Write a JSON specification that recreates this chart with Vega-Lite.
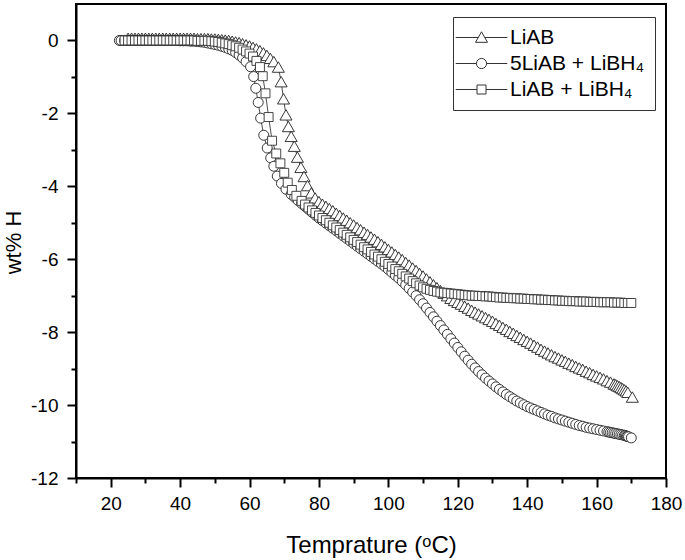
{
"$schema": "https://vega.github.io/schema/vega-lite/v6.json",
"width": 590, "height": 474,
"autosize": {"type": "none"},
"padding": {"left": 76, "top": 4, "right": 19, "bottom": 82},
"background": "white",
"config": {"view": {"stroke": "black", "strokeWidth": 2}, "font": "Liberation Sans"},
"data": {"values": [
{"s":"LiAB","t":25,"w":0.06},{"s":"LiAB","t":26,"w":0.06},{"s":"LiAB","t":27,"w":0.06},{"s":"LiAB","t":28,"w":0.06},{"s":"LiAB","t":29,"w":0.06},{"s":"LiAB","t":30,"w":0.06},{"s":"LiAB","t":31,"w":0.06},{"s":"LiAB","t":32,"w":0.06},{"s":"LiAB","t":33,"w":0.06},{"s":"LiAB","t":34,"w":0.06},{"s":"LiAB","t":35,"w":0.06},{"s":"LiAB","t":36,"w":0.06},{"s":"LiAB","t":37,"w":0.06},{"s":"LiAB","t":38,"w":0.06},{"s":"LiAB","t":39,"w":0.06},{"s":"LiAB","t":40,"w":0.06},{"s":"LiAB","t":41,"w":0.06},{"s":"LiAB","t":42,"w":0.06},{"s":"LiAB","t":43,"w":0.06},{"s":"LiAB","t":44,"w":0.06},{"s":"LiAB","t":45,"w":0.05},{"s":"LiAB","t":46,"w":0.05},{"s":"LiAB","t":47,"w":0.05},{"s":"LiAB","t":48,"w":0.05},{"s":"LiAB","t":49,"w":0.04},{"s":"LiAB","t":50,"w":0.04},{"s":"LiAB","t":51,"w":0.03},{"s":"LiAB","t":52,"w":0.02},{"s":"LiAB","t":53,"w":0.01},{"s":"LiAB","t":54,"w":0.0},{"s":"LiAB","t":55,"w":-0.02},{"s":"LiAB","t":56,"w":-0.04},{"s":"LiAB","t":57,"w":-0.06},{"s":"LiAB","t":58,"w":-0.09},{"s":"LiAB","t":59,"w":-0.12},{"s":"LiAB","t":60,"w":-0.15},{"s":"LiAB","t":61,"w":-0.19},{"s":"LiAB","t":62,"w":-0.23},{"s":"LiAB","t":63,"w":-0.28},{"s":"LiAB","t":64,"w":-0.34},{"s":"LiAB","t":65,"w":-0.41},{"s":"LiAB","t":66,"w":-0.49},{"s":"LiAB","t":67,"w":-0.58},{"s":"LiAB","t":68.3,"w":-0.73},{"s":"LiAB","t":69.1,"w":-1.13},{"s":"LiAB","t":69.8,"w":-1.6},{"s":"LiAB","t":70.5,"w":-2.04},{"s":"LiAB","t":71.2,"w":-2.36},{"s":"LiAB","t":72,"w":-2.63},{"s":"LiAB","t":72.9,"w":-2.9},{"s":"LiAB","t":73.8,"w":-3.2},{"s":"LiAB","t":74.8,"w":-3.48},{"s":"LiAB","t":75.7,"w":-3.73},{"s":"LiAB","t":76.7,"w":-3.98},{"s":"LiAB","t":77.8,"w":-4.18},{"s":"LiAB","t":78.9,"w":-4.32},{"s":"LiAB","t":80,"w":-4.42},{"s":"LiAB","t":81,"w":-4.49},{"s":"LiAB","t":82,"w":-4.55},{"s":"LiAB","t":83,"w":-4.61},{"s":"LiAB","t":84,"w":-4.67},{"s":"LiAB","t":85,"w":-4.74},{"s":"LiAB","t":86,"w":-4.8},{"s":"LiAB","t":87,"w":-4.87},{"s":"LiAB","t":88,"w":-4.93},{"s":"LiAB","t":89,"w":-5.0},{"s":"LiAB","t":90,"w":-5.06},{"s":"LiAB","t":91,"w":-5.13},{"s":"LiAB","t":92,"w":-5.19},{"s":"LiAB","t":93,"w":-5.26},{"s":"LiAB","t":94,"w":-5.32},{"s":"LiAB","t":95,"w":-5.39},{"s":"LiAB","t":96,"w":-5.45},{"s":"LiAB","t":97,"w":-5.52},{"s":"LiAB","t":98,"w":-5.59},{"s":"LiAB","t":99,"w":-5.66},{"s":"LiAB","t":100,"w":-5.73},{"s":"LiAB","t":101,"w":-5.8},{"s":"LiAB","t":102,"w":-5.87},{"s":"LiAB","t":103,"w":-5.94},{"s":"LiAB","t":104,"w":-6.01},{"s":"LiAB","t":105,"w":-6.09},{"s":"LiAB","t":106,"w":-6.16},{"s":"LiAB","t":107,"w":-6.24},{"s":"LiAB","t":108,"w":-6.31},{"s":"LiAB","t":109,"w":-6.39},{"s":"LiAB","t":110,"w":-6.46},{"s":"LiAB","t":111,"w":-6.54},{"s":"LiAB","t":112,"w":-6.62},{"s":"LiAB","t":113,"w":-6.7},{"s":"LiAB","t":114,"w":-6.78},{"s":"LiAB","t":115,"w":-6.86},{"s":"LiAB","t":116,"w":-6.93},{"s":"LiAB","t":117,"w":-7.0},{"s":"LiAB","t":118,"w":-7.07},{"s":"LiAB","t":119,"w":-7.13},{"s":"LiAB","t":120,"w":-7.18},{"s":"LiAB","t":121,"w":-7.23},{"s":"LiAB","t":122,"w":-7.29},{"s":"LiAB","t":123,"w":-7.34},{"s":"LiAB","t":124,"w":-7.4},{"s":"LiAB","t":125,"w":-7.45},{"s":"LiAB","t":126,"w":-7.5},{"s":"LiAB","t":127,"w":-7.55},{"s":"LiAB","t":128,"w":-7.6},{"s":"LiAB","t":129,"w":-7.65},{"s":"LiAB","t":130,"w":-7.7},{"s":"LiAB","t":131,"w":-7.76},{"s":"LiAB","t":132,"w":-7.81},{"s":"LiAB","t":133,"w":-7.87},{"s":"LiAB","t":134,"w":-7.92},{"s":"LiAB","t":135,"w":-7.98},{"s":"LiAB","t":136,"w":-8.03},{"s":"LiAB","t":137,"w":-8.09},{"s":"LiAB","t":138,"w":-8.14},{"s":"LiAB","t":139,"w":-8.2},{"s":"LiAB","t":140,"w":-8.25},{"s":"LiAB","t":141,"w":-8.3},{"s":"LiAB","t":142,"w":-8.36},{"s":"LiAB","t":143,"w":-8.41},{"s":"LiAB","t":144,"w":-8.47},{"s":"LiAB","t":145,"w":-8.52},{"s":"LiAB","t":146,"w":-8.57},{"s":"LiAB","t":147,"w":-8.62},{"s":"LiAB","t":148,"w":-8.67},{"s":"LiAB","t":149,"w":-8.71},{"s":"LiAB","t":150,"w":-8.76},{"s":"LiAB","t":151,"w":-8.8},{"s":"LiAB","t":152,"w":-8.85},{"s":"LiAB","t":153,"w":-8.89},{"s":"LiAB","t":154,"w":-8.94},{"s":"LiAB","t":155,"w":-8.98},{"s":"LiAB","t":156,"w":-9.02},{"s":"LiAB","t":157,"w":-9.07},{"s":"LiAB","t":158,"w":-9.11},{"s":"LiAB","t":159,"w":-9.16},{"s":"LiAB","t":160,"w":-9.2},{"s":"LiAB","t":161,"w":-9.24},{"s":"LiAB","t":162,"w":-9.28},{"s":"LiAB","t":163,"w":-9.33},{"s":"LiAB","t":164,"w":-9.37},{"s":"LiAB","t":165,"w":-9.42},{"s":"LiAB","t":165.5,"w":-9.44},{"s":"LiAB","t":166,"w":-9.47},{"s":"LiAB","t":166.5,"w":-9.49},{"s":"LiAB","t":167,"w":-9.52},{"s":"LiAB","t":167.5,"w":-9.55},{"s":"LiAB","t":168,"w":-9.58},{"s":"LiAB","t":168.5,"w":-9.61},{"s":"LiAB","t":169,"w":-9.65},{"s":"LiAB","t":170.3,"w":-9.78},
{"s":"5LiAB + LiBH₄","t":22.5,"w":0},{"s":"5LiAB + LiBH₄","t":23,"w":0},{"s":"5LiAB + LiBH₄","t":24,"w":0},{"s":"5LiAB + LiBH₄","t":25,"w":0},{"s":"5LiAB + LiBH₄","t":26,"w":0},{"s":"5LiAB + LiBH₄","t":27,"w":0},{"s":"5LiAB + LiBH₄","t":28,"w":0},{"s":"5LiAB + LiBH₄","t":29,"w":0},{"s":"5LiAB + LiBH₄","t":30,"w":0},{"s":"5LiAB + LiBH₄","t":31,"w":0},{"s":"5LiAB + LiBH₄","t":32,"w":0},{"s":"5LiAB + LiBH₄","t":33,"w":0},{"s":"5LiAB + LiBH₄","t":34,"w":0},{"s":"5LiAB + LiBH₄","t":35,"w":0},{"s":"5LiAB + LiBH₄","t":36,"w":0},{"s":"5LiAB + LiBH₄","t":37,"w":0},{"s":"5LiAB + LiBH₄","t":38,"w":0},{"s":"5LiAB + LiBH₄","t":39,"w":0},{"s":"5LiAB + LiBH₄","t":40,"w":-0.01},{"s":"5LiAB + LiBH₄","t":41,"w":-0.01},{"s":"5LiAB + LiBH₄","t":42,"w":-0.01},{"s":"5LiAB + LiBH₄","t":43,"w":-0.02},{"s":"5LiAB + LiBH₄","t":44,"w":-0.02},{"s":"5LiAB + LiBH₄","t":45,"w":-0.03},{"s":"5LiAB + LiBH₄","t":46,"w":-0.04},{"s":"5LiAB + LiBH₄","t":47,"w":-0.05},{"s":"5LiAB + LiBH₄","t":48,"w":-0.07},{"s":"5LiAB + LiBH₄","t":49,"w":-0.09},{"s":"5LiAB + LiBH₄","t":50,"w":-0.11},{"s":"5LiAB + LiBH₄","t":51,"w":-0.13},{"s":"5LiAB + LiBH₄","t":52,"w":-0.16},{"s":"5LiAB + LiBH₄","t":53,"w":-0.19},{"s":"5LiAB + LiBH₄","t":54,"w":-0.23},{"s":"5LiAB + LiBH₄","t":55,"w":-0.27},{"s":"5LiAB + LiBH₄","t":56,"w":-0.33},{"s":"5LiAB + LiBH₄","t":57,"w":-0.4},{"s":"5LiAB + LiBH₄","t":58,"w":-0.48},{"s":"5LiAB + LiBH₄","t":59,"w":-0.58},{"s":"5LiAB + LiBH₄","t":60.3,"w":-0.72},{"s":"5LiAB + LiBH₄","t":61.2,"w":-0.99},{"s":"5LiAB + LiBH₄","t":61.8,"w":-1.31},{"s":"5LiAB + LiBH₄","t":62.5,"w":-1.7},{"s":"5LiAB + LiBH₄","t":63.2,"w":-2.13},{"s":"5LiAB + LiBH₄","t":64.1,"w":-2.6},{"s":"5LiAB + LiBH₄","t":65.1,"w":-2.95},{"s":"5LiAB + LiBH₄","t":66.1,"w":-3.22},{"s":"5LiAB + LiBH₄","t":67,"w":-3.45},{"s":"5LiAB + LiBH₄","t":68,"w":-3.72},{"s":"5LiAB + LiBH₄","t":69.2,"w":-3.92},{"s":"5LiAB + LiBH₄","t":70.5,"w":-4.08},{"s":"5LiAB + LiBH₄","t":72,"w":-4.22},{"s":"5LiAB + LiBH₄","t":73,"w":-4.3},{"s":"5LiAB + LiBH₄","t":74,"w":-4.39},{"s":"5LiAB + LiBH₄","t":75,"w":-4.47},{"s":"5LiAB + LiBH₄","t":76,"w":-4.55},{"s":"5LiAB + LiBH₄","t":77,"w":-4.63},{"s":"5LiAB + LiBH₄","t":78,"w":-4.71},{"s":"5LiAB + LiBH₄","t":79,"w":-4.79},{"s":"5LiAB + LiBH₄","t":80,"w":-4.87},{"s":"5LiAB + LiBH₄","t":81,"w":-4.94},{"s":"5LiAB + LiBH₄","t":82,"w":-5.01},{"s":"5LiAB + LiBH₄","t":83,"w":-5.08},{"s":"5LiAB + LiBH₄","t":84,"w":-5.15},{"s":"5LiAB + LiBH₄","t":85,"w":-5.22},{"s":"5LiAB + LiBH₄","t":86,"w":-5.29},{"s":"5LiAB + LiBH₄","t":87,"w":-5.36},{"s":"5LiAB + LiBH₄","t":88,"w":-5.43},{"s":"5LiAB + LiBH₄","t":89,"w":-5.5},{"s":"5LiAB + LiBH₄","t":90,"w":-5.57},{"s":"5LiAB + LiBH₄","t":91,"w":-5.64},{"s":"5LiAB + LiBH₄","t":92,"w":-5.71},{"s":"5LiAB + LiBH₄","t":93,"w":-5.78},{"s":"5LiAB + LiBH₄","t":94,"w":-5.85},{"s":"5LiAB + LiBH₄","t":95,"w":-5.92},{"s":"5LiAB + LiBH₄","t":96,"w":-5.99},{"s":"5LiAB + LiBH₄","t":97,"w":-6.06},{"s":"5LiAB + LiBH₄","t":98,"w":-6.13},{"s":"5LiAB + LiBH₄","t":99,"w":-6.2},{"s":"5LiAB + LiBH₄","t":100,"w":-6.28},{"s":"5LiAB + LiBH₄","t":101,"w":-6.36},{"s":"5LiAB + LiBH₄","t":102,"w":-6.44},{"s":"5LiAB + LiBH₄","t":103,"w":-6.52},{"s":"5LiAB + LiBH₄","t":104,"w":-6.61},{"s":"5LiAB + LiBH₄","t":105,"w":-6.7},{"s":"5LiAB + LiBH₄","t":106,"w":-6.8},{"s":"5LiAB + LiBH₄","t":107,"w":-6.9},{"s":"5LiAB + LiBH₄","t":108,"w":-7.0},{"s":"5LiAB + LiBH₄","t":109,"w":-7.11},{"s":"5LiAB + LiBH₄","t":110,"w":-7.22},{"s":"5LiAB + LiBH₄","t":111,"w":-7.34},{"s":"5LiAB + LiBH₄","t":112,"w":-7.46},{"s":"5LiAB + LiBH₄","t":113,"w":-7.58},{"s":"5LiAB + LiBH₄","t":114,"w":-7.7},{"s":"5LiAB + LiBH₄","t":115,"w":-7.82},{"s":"5LiAB + LiBH₄","t":116,"w":-7.94},{"s":"5LiAB + LiBH₄","t":117,"w":-8.06},{"s":"5LiAB + LiBH₄","t":118,"w":-8.18},{"s":"5LiAB + LiBH₄","t":119,"w":-8.3},{"s":"5LiAB + LiBH₄","t":120,"w":-8.42},{"s":"5LiAB + LiBH₄","t":121,"w":-8.54},{"s":"5LiAB + LiBH₄","t":122,"w":-8.66},{"s":"5LiAB + LiBH₄","t":123,"w":-8.77},{"s":"5LiAB + LiBH₄","t":124,"w":-8.88},{"s":"5LiAB + LiBH₄","t":125,"w":-8.98},{"s":"5LiAB + LiBH₄","t":126,"w":-9.08},{"s":"5LiAB + LiBH₄","t":127,"w":-9.17},{"s":"5LiAB + LiBH₄","t":128,"w":-9.26},{"s":"5LiAB + LiBH₄","t":129,"w":-9.34},{"s":"5LiAB + LiBH₄","t":130,"w":-9.42},{"s":"5LiAB + LiBH₄","t":131,"w":-9.5},{"s":"5LiAB + LiBH₄","t":132,"w":-9.57},{"s":"5LiAB + LiBH₄","t":133,"w":-9.64},{"s":"5LiAB + LiBH₄","t":134,"w":-9.71},{"s":"5LiAB + LiBH₄","t":135,"w":-9.77},{"s":"5LiAB + LiBH₄","t":136,"w":-9.83},{"s":"5LiAB + LiBH₄","t":137,"w":-9.89},{"s":"5LiAB + LiBH₄","t":138,"w":-9.94},{"s":"5LiAB + LiBH₄","t":139,"w":-9.99},{"s":"5LiAB + LiBH₄","t":140,"w":-10.04},{"s":"5LiAB + LiBH₄","t":141,"w":-10.08},{"s":"5LiAB + LiBH₄","t":142,"w":-10.12},{"s":"5LiAB + LiBH₄","t":143,"w":-10.16},{"s":"5LiAB + LiBH₄","t":144,"w":-10.2},{"s":"5LiAB + LiBH₄","t":145,"w":-10.24},{"s":"5LiAB + LiBH₄","t":146,"w":-10.28},{"s":"5LiAB + LiBH₄","t":147,"w":-10.31},{"s":"5LiAB + LiBH₄","t":148,"w":-10.35},{"s":"5LiAB + LiBH₄","t":149,"w":-10.38},{"s":"5LiAB + LiBH₄","t":150,"w":-10.41},{"s":"5LiAB + LiBH₄","t":151,"w":-10.44},{"s":"5LiAB + LiBH₄","t":152,"w":-10.47},{"s":"5LiAB + LiBH₄","t":153,"w":-10.5},{"s":"5LiAB + LiBH₄","t":154,"w":-10.53},{"s":"5LiAB + LiBH₄","t":155,"w":-10.56},{"s":"5LiAB + LiBH₄","t":156,"w":-10.58},{"s":"5LiAB + LiBH₄","t":157,"w":-10.61},{"s":"5LiAB + LiBH₄","t":158,"w":-10.63},{"s":"5LiAB + LiBH₄","t":159,"w":-10.65},{"s":"5LiAB + LiBH₄","t":160,"w":-10.67},{"s":"5LiAB + LiBH₄","t":161,"w":-10.69},{"s":"5LiAB + LiBH₄","t":162,"w":-10.71},{"s":"5LiAB + LiBH₄","t":163,"w":-10.73},{"s":"5LiAB + LiBH₄","t":163.5,"w":-10.74},{"s":"5LiAB + LiBH₄","t":164,"w":-10.75},{"s":"5LiAB + LiBH₄","t":164.5,"w":-10.76},{"s":"5LiAB + LiBH₄","t":165,"w":-10.77},{"s":"5LiAB + LiBH₄","t":165.5,"w":-10.78},{"s":"5LiAB + LiBH₄","t":166,"w":-10.79},{"s":"5LiAB + LiBH₄","t":166.5,"w":-10.8},{"s":"5LiAB + LiBH₄","t":167,"w":-10.81},{"s":"5LiAB + LiBH₄","t":167.5,"w":-10.82},{"s":"5LiAB + LiBH₄","t":168,"w":-10.83},{"s":"5LiAB + LiBH₄","t":168.3,"w":-10.84},{"s":"5LiAB + LiBH₄","t":168.6,"w":-10.85},{"s":"5LiAB + LiBH₄","t":168.9,"w":-10.86},{"s":"5LiAB + LiBH₄","t":169.2,"w":-10.87},{"s":"5LiAB + LiBH₄","t":170,"w":-10.9},
{"s":"LiAB + LiBH₄","t":24,"w":0},{"s":"LiAB + LiBH₄","t":25,"w":0},{"s":"LiAB + LiBH₄","t":26,"w":0},{"s":"LiAB + LiBH₄","t":27,"w":0},{"s":"LiAB + LiBH₄","t":28,"w":0},{"s":"LiAB + LiBH₄","t":29,"w":0},{"s":"LiAB + LiBH₄","t":30,"w":0},{"s":"LiAB + LiBH₄","t":31,"w":0},{"s":"LiAB + LiBH₄","t":32,"w":0},{"s":"LiAB + LiBH₄","t":33,"w":0},{"s":"LiAB + LiBH₄","t":34,"w":0},{"s":"LiAB + LiBH₄","t":35,"w":0},{"s":"LiAB + LiBH₄","t":36,"w":0},{"s":"LiAB + LiBH₄","t":37,"w":0},{"s":"LiAB + LiBH₄","t":38,"w":0},{"s":"LiAB + LiBH₄","t":39,"w":0},{"s":"LiAB + LiBH₄","t":40,"w":0},{"s":"LiAB + LiBH₄","t":41,"w":0},{"s":"LiAB + LiBH₄","t":42,"w":0},{"s":"LiAB + LiBH₄","t":43,"w":0},{"s":"LiAB + LiBH₄","t":44,"w":0},{"s":"LiAB + LiBH₄","t":45,"w":-0.01},{"s":"LiAB + LiBH₄","t":46,"w":-0.01},{"s":"LiAB + LiBH₄","t":47,"w":-0.01},{"s":"LiAB + LiBH₄","t":48,"w":-0.01},{"s":"LiAB + LiBH₄","t":49,"w":-0.02},{"s":"LiAB + LiBH₄","t":50,"w":-0.03},{"s":"LiAB + LiBH₄","t":51,"w":-0.04},{"s":"LiAB + LiBH₄","t":52,"w":-0.06},{"s":"LiAB + LiBH₄","t":53,"w":-0.08},{"s":"LiAB + LiBH₄","t":54,"w":-0.1},{"s":"LiAB + LiBH₄","t":55,"w":-0.13},{"s":"LiAB + LiBH₄","t":56,"w":-0.16},{"s":"LiAB + LiBH₄","t":57,"w":-0.2},{"s":"LiAB + LiBH₄","t":58,"w":-0.25},{"s":"LiAB + LiBH₄","t":59,"w":-0.3},{"s":"LiAB + LiBH₄","t":60,"w":-0.36},{"s":"LiAB + LiBH₄","t":61,"w":-0.44},{"s":"LiAB + LiBH₄","t":62,"w":-0.56},{"s":"LiAB + LiBH₄","t":63,"w":-0.73},{"s":"LiAB + LiBH₄","t":63.8,"w":-0.98},{"s":"LiAB + LiBH₄","t":64.6,"w":-1.45},{"s":"LiAB + LiBH₄","t":65.5,"w":-2.1},{"s":"LiAB + LiBH₄","t":66.5,"w":-2.75},{"s":"LiAB + LiBH₄","t":67.7,"w":-3.1},{"s":"LiAB + LiBH₄","t":68.9,"w":-3.37},{"s":"LiAB + LiBH₄","t":70,"w":-3.63},{"s":"LiAB + LiBH₄","t":71,"w":-3.9},{"s":"LiAB + LiBH₄","t":72.2,"w":-4.1},{"s":"LiAB + LiBH₄","t":73.5,"w":-4.26},{"s":"LiAB + LiBH₄","t":75,"w":-4.4},{"s":"LiAB + LiBH₄","t":76,"w":-4.5},{"s":"LiAB + LiBH₄","t":77,"w":-4.58},{"s":"LiAB + LiBH₄","t":78,"w":-4.66},{"s":"LiAB + LiBH₄","t":79,"w":-4.73},{"s":"LiAB + LiBH₄","t":80,"w":-4.8},{"s":"LiAB + LiBH₄","t":81,"w":-4.87},{"s":"LiAB + LiBH₄","t":82,"w":-4.93},{"s":"LiAB + LiBH₄","t":83,"w":-5.0},{"s":"LiAB + LiBH₄","t":84,"w":-5.07},{"s":"LiAB + LiBH₄","t":85,"w":-5.13},{"s":"LiAB + LiBH₄","t":86,"w":-5.2},{"s":"LiAB + LiBH₄","t":87,"w":-5.27},{"s":"LiAB + LiBH₄","t":88,"w":-5.33},{"s":"LiAB + LiBH₄","t":89,"w":-5.4},{"s":"LiAB + LiBH₄","t":90,"w":-5.47},{"s":"LiAB + LiBH₄","t":91,"w":-5.53},{"s":"LiAB + LiBH₄","t":92,"w":-5.6},{"s":"LiAB + LiBH₄","t":93,"w":-5.67},{"s":"LiAB + LiBH₄","t":94,"w":-5.73},{"s":"LiAB + LiBH₄","t":95,"w":-5.8},{"s":"LiAB + LiBH₄","t":96,"w":-5.87},{"s":"LiAB + LiBH₄","t":97,"w":-5.93},{"s":"LiAB + LiBH₄","t":98,"w":-6.0},{"s":"LiAB + LiBH₄","t":99,"w":-6.07},{"s":"LiAB + LiBH₄","t":100,"w":-6.13},{"s":"LiAB + LiBH₄","t":101,"w":-6.2},{"s":"LiAB + LiBH₄","t":102,"w":-6.27},{"s":"LiAB + LiBH₄","t":103,"w":-6.33},{"s":"LiAB + LiBH₄","t":104,"w":-6.4},{"s":"LiAB + LiBH₄","t":105,"w":-6.47},{"s":"LiAB + LiBH₄","t":106,"w":-6.53},{"s":"LiAB + LiBH₄","t":107,"w":-6.6},{"s":"LiAB + LiBH₄","t":108,"w":-6.66},{"s":"LiAB + LiBH₄","t":109,"w":-6.72},{"s":"LiAB + LiBH₄","t":110,"w":-6.77},{"s":"LiAB + LiBH₄","t":111,"w":-6.81},{"s":"LiAB + LiBH₄","t":112,"w":-6.84},{"s":"LiAB + LiBH₄","t":113,"w":-6.87},{"s":"LiAB + LiBH₄","t":114,"w":-6.89},{"s":"LiAB + LiBH₄","t":115,"w":-6.91},{"s":"LiAB + LiBH₄","t":116,"w":-6.92},{"s":"LiAB + LiBH₄","t":117,"w":-6.93},{"s":"LiAB + LiBH₄","t":118,"w":-6.94},{"s":"LiAB + LiBH₄","t":119,"w":-6.95},{"s":"LiAB + LiBH₄","t":120,"w":-6.96},{"s":"LiAB + LiBH₄","t":121,"w":-6.97},{"s":"LiAB + LiBH₄","t":122,"w":-6.98},{"s":"LiAB + LiBH₄","t":123,"w":-6.99},{"s":"LiAB + LiBH₄","t":124,"w":-7.0},{"s":"LiAB + LiBH₄","t":125,"w":-7.0},{"s":"LiAB + LiBH₄","t":126,"w":-7.01},{"s":"LiAB + LiBH₄","t":127,"w":-7.01},{"s":"LiAB + LiBH₄","t":128,"w":-7.02},{"s":"LiAB + LiBH₄","t":129,"w":-7.02},{"s":"LiAB + LiBH₄","t":130,"w":-7.03},{"s":"LiAB + LiBH₄","t":131,"w":-7.04},{"s":"LiAB + LiBH₄","t":132,"w":-7.05},{"s":"LiAB + LiBH₄","t":133,"w":-7.05},{"s":"LiAB + LiBH₄","t":134,"w":-7.06},{"s":"LiAB + LiBH₄","t":135,"w":-7.06},{"s":"LiAB + LiBH₄","t":136,"w":-7.07},{"s":"LiAB + LiBH₄","t":137,"w":-7.07},{"s":"LiAB + LiBH₄","t":138,"w":-7.08},{"s":"LiAB + LiBH₄","t":139,"w":-7.08},{"s":"LiAB + LiBH₄","t":140,"w":-7.09},{"s":"LiAB + LiBH₄","t":141,"w":-7.09},{"s":"LiAB + LiBH₄","t":142,"w":-7.1},{"s":"LiAB + LiBH₄","t":143,"w":-7.1},{"s":"LiAB + LiBH₄","t":144,"w":-7.11},{"s":"LiAB + LiBH₄","t":145,"w":-7.11},{"s":"LiAB + LiBH₄","t":146,"w":-7.12},{"s":"LiAB + LiBH₄","t":147,"w":-7.12},{"s":"LiAB + LiBH₄","t":148,"w":-7.13},{"s":"LiAB + LiBH₄","t":149,"w":-7.13},{"s":"LiAB + LiBH₄","t":150,"w":-7.14},{"s":"LiAB + LiBH₄","t":151,"w":-7.14},{"s":"LiAB + LiBH₄","t":152,"w":-7.15},{"s":"LiAB + LiBH₄","t":153,"w":-7.15},{"s":"LiAB + LiBH₄","t":154,"w":-7.15},{"s":"LiAB + LiBH₄","t":155,"w":-7.16},{"s":"LiAB + LiBH₄","t":156,"w":-7.16},{"s":"LiAB + LiBH₄","t":157,"w":-7.16},{"s":"LiAB + LiBH₄","t":158,"w":-7.17},{"s":"LiAB + LiBH₄","t":159,"w":-7.17},{"s":"LiAB + LiBH₄","t":160,"w":-7.17},{"s":"LiAB + LiBH₄","t":161,"w":-7.18},{"s":"LiAB + LiBH₄","t":162,"w":-7.18},{"s":"LiAB + LiBH₄","t":163,"w":-7.18},{"s":"LiAB + LiBH₄","t":164,"w":-7.18},{"s":"LiAB + LiBH₄","t":165,"w":-7.19},{"s":"LiAB + LiBH₄","t":166,"w":-7.19},{"s":"LiAB + LiBH₄","t":167,"w":-7.19},{"s":"LiAB + LiBH₄","t":168,"w":-7.2},{"s":"LiAB + LiBH₄","t":169,"w":-7.2},{"s":"LiAB + LiBH₄","t":170,"w":-7.2}
]},
"encoding": {
  "x": {"field": "t", "type": "quantitative",
    "scale": {"domain": [10, 180], "nice": false, "zero": false},
    "axis": {"values": [10,20,30,40,50,60,70,80,90,100,110,120,130,140,150,160,170,180],
      "labelExpr": "datum.value % 20 === 0 ? '' + datum.value : ''",
      "grid": false, "domainColor": "black", "domainWidth": 2, "tickColor": "black", "tickWidth": 2,
      "tickSize": {"condition": {"test": "datum.value % 20 === 0", "value": 9}, "value": 5},
      "labelFont": "Liberation Sans", "labelFontSize": 19, "labelColor": "black", "labelPadding": 7, "labelFlush": false, "labelOverlap": false,
      "title": "Temprature (ᵒC)", "titleFont": "Liberation Sans", "titleFontSize": 24, "titleFontWeight": "normal", "titleColor": "black",
      "titleBaseline": "alphabetic", "titleY": 74}},
  "y": {"field": "w", "type": "quantitative",
    "scale": {"domain": [-12, 1], "nice": false, "zero": false},
    "axis": {"values": [-12,-11,-10,-9,-8,-7,-6,-5,-4,-3,-2,-1,0],
      "labelExpr": "datum.value % 2 === 0 ? '' + datum.value : ''",
      "grid": false, "domainColor": "black", "domainWidth": 2, "tickColor": "black", "tickWidth": 2,
      "tickSize": {"condition": {"test": "datum.value % 2 === 0", "value": 9}, "value": 5},
      "labelFont": "Liberation Sans", "labelFontSize": 19, "labelColor": "black", "labelPadding": 9, "labelFlush": false, "labelOverlap": false,
      "title": "wt% H", "titleFont": "Liberation Sans", "titleFontSize": 22, "titleFontWeight": "normal", "titleColor": "black",
      "titleBaseline": "alphabetic", "titleX": -56, "titleY": 238, "titleAlign": "center", "titleAngle": -90}}
},
"layer": [
  {"mark": {"type": "line", "color": "#222", "strokeWidth": 0.8}, "encoding": {"detail": {"field": "s"}}},
  {"transform": [{"filter": "datum.s === 'LiAB'"}],
   "mark": {"type": "point", "shape": "triangle-up", "size": 145, "filled": true, "fill": "white", "stroke": "#222", "strokeWidth": 0.9, "opacity": 1}},
  {"transform": [{"filter": "datum.s === '5LiAB + LiBH₄'"}],
   "mark": {"type": "point", "shape": "circle", "size": 100, "filled": true, "fill": "white", "stroke": "#222", "strokeWidth": 0.9, "opacity": 1}},
  {"transform": [{"filter": "datum.s === 'LiAB + LiBH₄'"}],
   "mark": {"type": "point", "shape": "square", "size": 80, "filled": true, "fill": "white", "stroke": "#333", "strokeWidth": 0.9, "opacity": 1}},
  {"mark": {"type": "point", "opacity": 0},
   "encoding": {"shape": {"field": "s", "type": "nominal",
     "scale": {"domain": ["LiAB", "5LiAB + LiBH₄", "LiAB + LiBH₄"],
       "range": ["M-4.3,0H-0.55M0.55,0H4.3M-1,0.8L0,-0.95L1,0.8Z",
                 "M-4.3,0H-0.85M0.85,0H4.3M-0.85,0A0.85,0.85,0,1,0,0.85,0A0.85,0.85,0,1,0,-0.85,0Z",
                 "M-4.3,0H-0.75M0.75,0H4.3M-0.75,-0.75H0.75V0.75H-0.75Z"]},
     "legend": {"title": null, "orient": "none", "legendX": 377, "legendY": 13, "padding": 10,
       "strokeColor": "#333", "fillColor": "white",
       "labelFont": "Liberation Sans", "labelFontSize": 21, "labelColor": "black",
       "symbolSize": 144, "symbolStrokeColor": "#333", "symbolStrokeWidth": 1, "symbolFillColor": "white",
       "symbolOffset": 8, "labelOffset": 18, "rowPadding": 4, "symbolOpacity": 1,
       "encode": {"symbols": {"update": {"opacity": {"value": 1}}}}}}}}
]
}
